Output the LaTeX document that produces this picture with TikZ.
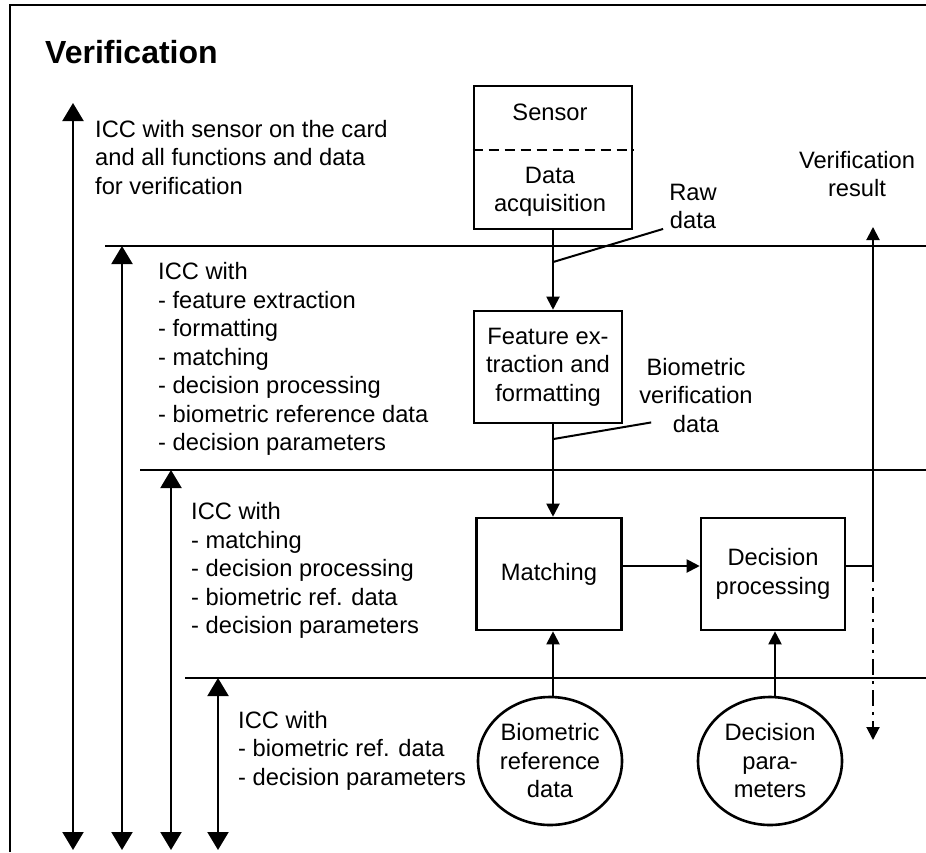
\documentclass[tikz,border=0pt]{standalone}
\usepackage{fontspec}
\setmainfont{Liberation Sans}
\usetikzlibrary{arrows.meta,shapes.geometric,positioning,calc}

\newcommand{\txt}{\fontsize{23.7}{28.5}\selectfont}
\tikzset{
	box/.style={draw, line width=2.6pt, minimum width=146pt, minimum height=112pt, align=center, inner sep=0pt, font=\txt},
	store/.style={draw, ellipse, line width=2.6pt, minimum width=144pt, minimum height=128pt, align=center, inner sep=0pt, font=\txt},
	flow/.style={-{Triangle[length=13pt,width=13pt]}, line width=2pt},
	span/.style={{Triangle[length=18pt,width=21pt]}-{Triangle[length=18pt,width=21pt]}, line width=2pt},
	layer/.style={line width=2pt},
	lbl/.style={align=left, inner sep=0pt, anchor=base west, font=\txt},
	clbl/.style={align=center, inner sep=0pt, anchor=base, font=\txt},
}

\begin{document}
\begin{tikzpicture}[x=1pt,y=-1pt]
	\useasboundingbox (0,0) rectangle (926,852);
	\draw[line width=2.5pt] (10,852) -- (10,5) -- (926,5);
	\node[anchor=base west, inner sep=0pt, font=\fontsize{32}{38}\selectfont\bfseries] (title) at (45,63) {Verification};

	% layer borders
	\draw[layer] (105,246) -- (926,246);
	\draw[layer] (140,470) -- (926,470);
	\draw[layer] (185,678) -- (926,678);

	% ranges of the card variants
	\coordinate (r1top) at (73,103);  \coordinate (r1bot) at (73,850);
	\coordinate (r2top) at (122,246); \coordinate (r2bot) at (122,850);
	\coordinate (r3top) at (171,470); \coordinate (r3bot) at (171,850);
	\coordinate (r4top) at (218,678); \coordinate (r4bot) at (218,850);
	\draw[span] (r1top) -- (r1bot);
	\draw[span] (r2top) -- (r2bot);
	\draw[span] (r3top) -- (r3bot);
	\draw[span] (r4top) -- (r4bot);

	% (base = last line)
	\node[lbl] (icc1) at (95,194) {ICC with sensor on the card\\and all functions and data\\for verification};
	\node[lbl] (icc2) at (158,450.5) {ICC with\\- feature extraction\\- formatting\\- matching\\- decision processing\\- biometric reference data\\- decision parameters};
	\node[lbl] (icc3) at (191,633.5) {ICC with\\- matching\\- decision processing\\- biometric ref. data\\- decision parameters};
	\node[lbl] (icc4) at (238,785) {ICC with\\- biometric ref. data\\- decision parameters};

	% sensor
	\node[draw, line width=2.6pt, minimum width=158pt, minimum height=143pt, inner sep=0pt] (sensor) at (553,157.5) {};
	\draw[line width=2.6pt, dash pattern=on 10pt off 6pt] ([yshift=7.5pt]sensor.west) -- ([yshift=7.5pt]sensor.east);
	\node[clbl] (sensorlbl) at (550,120) {Sensor};
	\node[clbl] (acq) at (550,211.5) {Data\\acquisition};

	% processing
	\node[box, minimum width=148pt] (feature) at (548,367) {Feature ex-\\traction and\\formatting};
	\node[box, minimum width=145pt] (matching) at (549,574) {Matching};
	\node[box, minimum width=144pt] (decision) at (773,574) {Decision\\processing};
	\node[store] (bioref) at (550,761) {Biometric\\reference\\data};
	\node[store] (decpar) at (770,761) {Decision\\para-\\meters};

	\draw[flow] (sensor.south) -- (sensor.south |- feature.north);
	\draw[flow] (sensor.south |- feature.south) -- (sensor.south |- matching.north);
	\draw[flow] ([yshift=8pt]matching.east) -- ([yshift=8pt]decision.west);
	\draw[flow] (sensor.south |- bioref.north) -- (sensor.south |- matching.south);
	\draw[flow] ([xshift=5pt]decpar.north) -- ([xshift=5pt]decpar.north |- decision.south);

	% data labels
	\node[clbl] (rawlbl) at (693,228.5) {Raw\\data};
	\node[clbl] (bvd) at (696,432) {Biometric\\verification\\data};
	\draw[layer] ([xshift=-6pt]rawlbl.south west) -- ($(sensor.south)!0.4!(sensor.south |- feature.north)$);
	\draw[layer] ([xshift=12pt,yshift=10pt]bvd.south west) -- ($(sensor.south |- feature.south)!0.16!(sensor.south |- matching.north)$);

	% result
	\node[clbl] (result) at (857,196.5) {Verification\\result};
	\coordinate (tap) at (873,566);
	\coordinate (restip) at (873,227);
	\coordinate (nfy) at (873,740);
	\draw[layer] ([yshift=8pt]decision.east) -- (tap);
	\draw[flow] (tap) -- (restip);
	\draw[flow, dash pattern=on 16pt off 6pt on 3pt off 6pt] (tap) -- (nfy);
\end{tikzpicture}
\end{document}
